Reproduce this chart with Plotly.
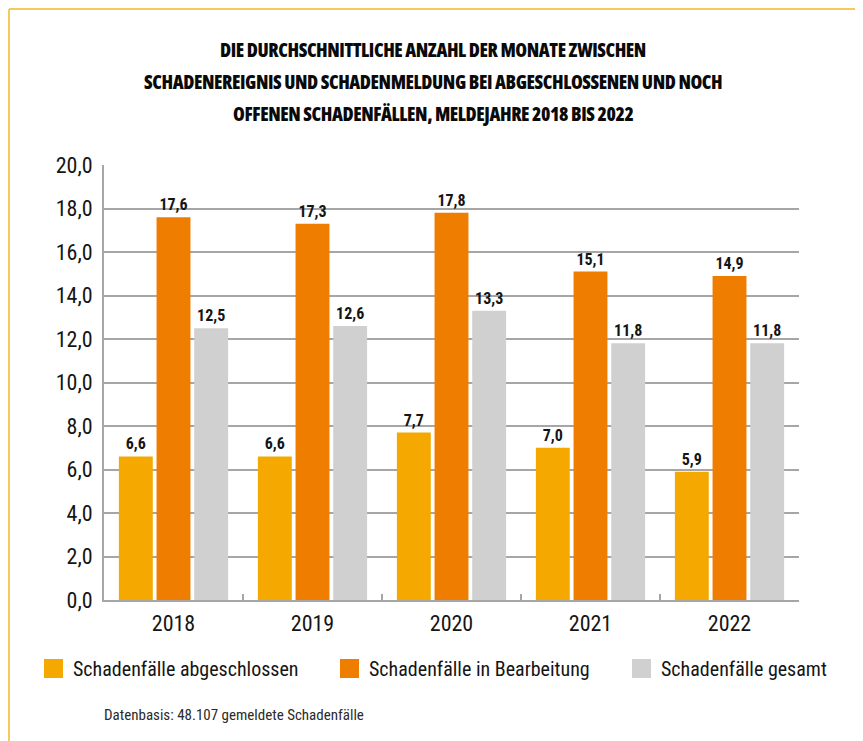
import plotly.graph_objects as go

# data
jahre = ["2018", "2019", "2020", "2021", "2022"]
abgeschlossen = [6.6, 6.6, 7.7, 7.0, 5.9]
in_bearbeitung = [17.6, 17.3, 17.8, 15.1, 14.9]
gesamt = [12.5, 12.6, 13.3, 11.8, 11.8]

serien = [
    ("Schadenfälle abgeschlossen", abgeschlossen, "#f5a800"),
    ("Schadenfälle in Bearbeitung", in_bearbeitung, "#ef7d00"),
    ("Schadenfälle gesamt", gesamt, "#d0d0d0"),
]
titel_zeilen = [
    "DIE DURCHSCHNITTLICHE ANZAHL DER MONATE ZWISCHEN",
    "SCHADENEREIGNIS UND SCHADENMELDUNG BEI ABGESCHLOSSENEN UND NOCH",
    "OFFENEN SCHADENFÄLLEN, MELDEJAHRE 2018 BIS 2022",
]
fussnote = "Datenbasis: 48.107 gemeldete Schadenfälle"

# the page body adds an 8px margin, so the figure is a bit smaller
OFF = 8
W, H = 863 - OFF, 741 - OFF
L, R, T, B = 96, 64, 157, 141
PW, PH = W - L - R, H - T - B

FONT = "Roboto Condensed, Roboto, Arial, sans-serif"
TITLE_FONT = "Open Sans, Roboto Condensed, sans-serif"
TXT = "#151515"


def px_x(x):
    # screen pixel -> paper x
    return (x - OFF - L) / PW


def px_y(y):
    # screen pixel -> paper y
    return (H - B - (y - OFF)) / PH


fig = go.Figure()
for name, werte, farbe in serien:
    fig.add_trace(go.Bar(
        x=jahre, y=werte, name=name,
        marker=dict(color=farbe, line=dict(width=0)),
        texttemplate="%{y:.1f}", textposition="outside",
        textfont=dict(size=16, color=TXT, family=FONT, weight="bold"),
        cliponaxis=False, showlegend=False,
    ))

annotations = []
shapes = []

# title lines (condensed, heavy)
for i, zeile in enumerate(titel_zeilen):
    annotations.append(dict(
        text=("<span style='font-stretch:condensed;font-weight:800;"
              f"letter-spacing:-0.4px'>{zeile}</span>"),
        xref="paper", yref="paper",
        x=px_x(433), y=px_y(50 + i * 32), xanchor="center", yanchor="middle",
        showarrow=False, font=dict(size=19, color="#0a0a0a", family=TITLE_FONT),
    ))

# legend
leg_x = [44, 340, 632]
for (name, _, farbe), lx in zip(serien, leg_x):
    shapes.append(dict(type="rect", xref="paper", yref="paper",
                       x0=px_x(lx), x1=px_x(lx + 19), y0=px_y(678), y1=px_y(659),
                       fillcolor=farbe, line=dict(width=0)))
    annotations.append(dict(text=name, xref="paper", yref="paper",
                            x=px_x(lx + 27), y=px_y(669), xanchor="left", yanchor="middle",
                            showarrow=False, font=dict(size=20, color=TXT, family=FONT)))

annotations.append(dict(text=fussnote, xref="paper", yref="paper",
                        x=px_x(102), y=px_y(715), xanchor="left", yanchor="middle",
                        showarrow=False, font=dict(size=15, color="#2a2a2a", family=FONT)))

# thin frame top/left
rahmen = "#f9c85c"
shapes.append(dict(type="line", xref="paper", yref="paper",
                   x0=px_x(OFF + 1), x1=px_x(863), y0=px_y(OFF + 1), y1=px_y(OFF + 1),
                   line=dict(color=rahmen, width=2)))
shapes.append(dict(type="line", xref="paper", yref="paper",
                   x0=px_x(OFF + 1), x1=px_x(OFF + 1), y0=px_y(OFF + 1), y1=px_y(741),
                   line=dict(color=rahmen, width=2)))

fig.update_layout(
    width=W, height=H,
    margin=dict(l=L, r=R, t=T, b=B),
    paper_bgcolor="white", plot_bgcolor="white",
    barmode="group", bargap=0.187, bargroupgap=0.1,
    separators=",.",
    font=dict(family=FONT, color=TXT),
    annotations=annotations, shapes=shapes,
    xaxis=dict(
        showline=True, linecolor="#a6a6a6", linewidth=2,
        ticks="inside", tickson="boundaries", ticklen=6, tickcolor="#a6a6a6", tickwidth=2,
        tickfont=dict(size=22, color=TXT), showgrid=False, ticklabelstandoff=3,
    ),
    yaxis=dict(
        range=[0, 20], dtick=2, tickformat=".1f",
        showline=True, linecolor="#a6a6a6", linewidth=2,
        showgrid=True, gridcolor="#a6a6a6", gridwidth=1.5,
        tickfont=dict(size=22, color=TXT), ticks="", ticklabelstandoff=5,
        zeroline=False,
    ),
)

fig.write_html("out.html")
